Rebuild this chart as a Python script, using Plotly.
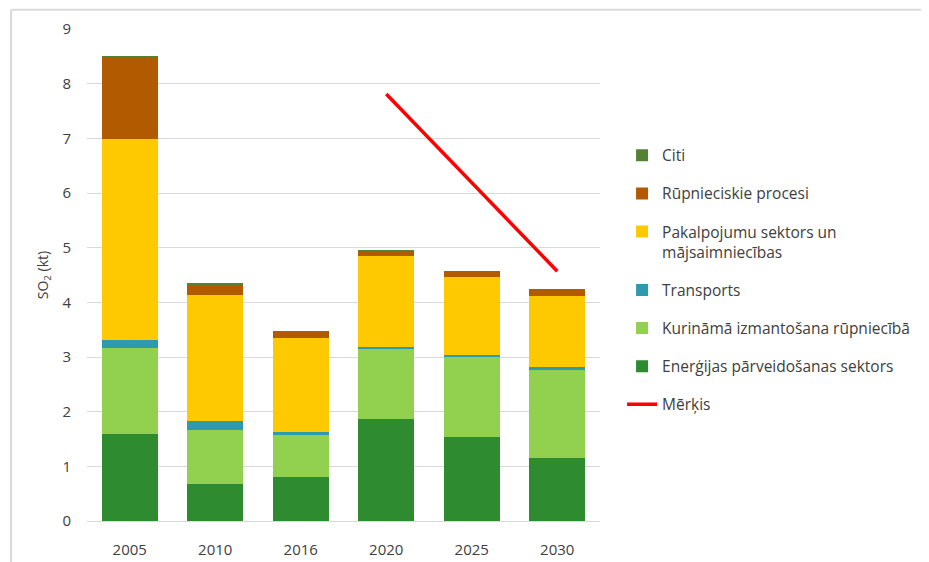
import plotly.graph_objects as go

years = ["2005", "2010", "2016", "2020", "2025", "2030"]

energija = [1.60, 0.67, 0.80, 1.87, 1.53, 1.15]
kurinama = [1.57, 1.00, 0.77, 1.27, 1.47, 1.62]
transports = [0.15, 0.165, 0.06, 0.04, 0.04, 0.05]
pakalpojumu = [3.67, 2.30, 1.71, 1.66, 1.42, 1.30]
rupnieciskie = [1.50, 0.20, 0.12, 0.10, 0.105, 0.11]
citi = [0.01, 0.008, 0.008, 0.008, 0.008, 0.008]

merkis_years = ["2020", "2030"]
merkis = [7.81, 4.57]

series = [
    ("Enerģijas pārveidošanas sektors", energija, "#2E8B30"),
    ("Kurināmā izmantošana rūpniecībā", kurinama, "#92D050"),
    ("Transports", transports, "#2E9AAE"),
    ("Pakalpojumu sektors un<br>mājsaimniecības", pakalpojumu, "#FFC900"),
    ("Rūpnieciskie procesi", rupnieciskie, "#B25A00"),
    ("Citi", citi, "#548235"),
]

fig = go.Figure()
for i, (name, vals, col) in enumerate(series):
    fig.add_trace(go.Bar(x=years, y=vals, name=name, marker_color=col,
                         marker_line_width=0, legendgroup=str(i),
                         legendrank=100 - i))

fig.add_trace(go.Scatter(x=merkis_years, y=merkis, mode="lines", name="Mērķis",
                         line=dict(color="#FF0000", width=3.5), legendgroup="m",
                         legendrank=200))

# page body adds an 8px offset, so the figure is a bit smaller than the window
fig.update_layout(
    barmode="stack",
    bargap=0.345,
    width=921, height=554,
    margin=dict(l=79, r=329, t=21, b=41, autoexpand=False),
    plot_bgcolor="white", paper_bgcolor="white",
    font=dict(family="Open Sans, sans-serif", size=14, color="#404040"),
    legend=dict(x=1.043, xanchor="left", y=0.777, yanchor="top",
                traceorder="grouped", tracegroupgap=15,
                valign="top", font=dict(family="Open Sans", size=15.5, color="#404040")),
    yaxis=dict(range=[0, 9], dtick=1, gridcolor="#D9D9D9", gridwidth=1,
               zeroline=True, zerolinecolor="#D9D9D9", zerolinewidth=1,
               ticks="", ticklabelstandoff=15, automargin=False,
               title=dict(text="SO<sub>2</sub> (kt)", font=dict(size=14), standoff=10),
               tickfont=dict(size=15, color="#404040")),
    xaxis=dict(showgrid=False, ticks="", ticklabelstandoff=18, automargin=False,
               tickfont=dict(size=15, color="#404040")),
    shapes=[
        dict(type="line", xref="paper", yref="paper", x0=-0.148, x1=1.7, y0=1.039, y1=1.039,
             line=dict(color="#D9D9D9", width=2)),
        dict(type="line", xref="paper", yref="paper", x0=-0.148, x1=-0.148, y0=1.039, y1=-0.1,
             line=dict(color="#D9D9D9", width=2)),
    ],
)

fig.write_html("out.html")
